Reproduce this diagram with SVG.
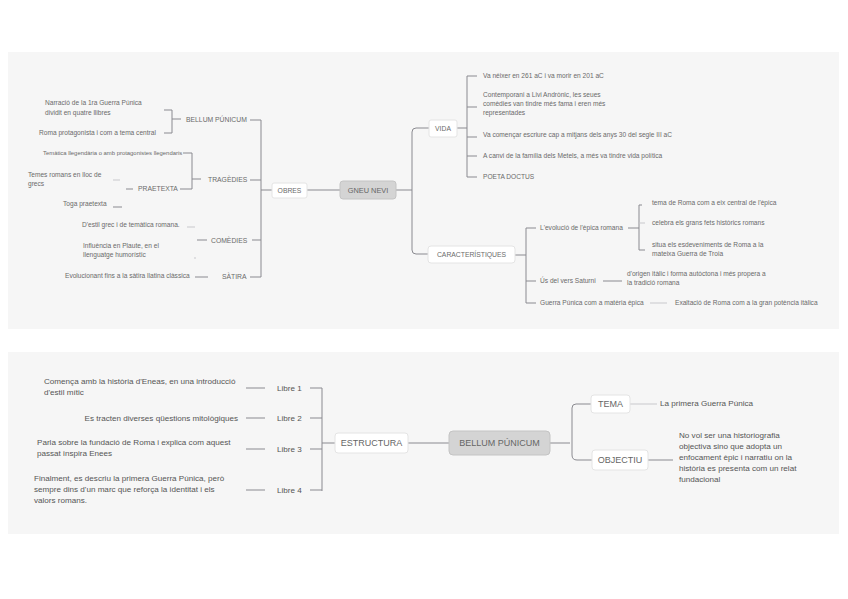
<svg xmlns="http://www.w3.org/2000/svg" width="848" height="599" viewBox="0 0 848 599">
<style>
.bg{fill:#f6f6f6}
.ln{fill:none;stroke:#8a8a90;stroke-width:1}
.fl{fill:none;stroke:#c8c8cc;stroke-width:1}
.t{font-family:"Liberation Sans",Arial,sans-serif;font-size:6.6px;fill:#6a6a6a}
.t7{font-family:"Liberation Sans",Arial,sans-serif;font-size:6.8px;fill:#6a6a6a}
.b{font-family:"Liberation Sans",Arial,sans-serif;font-size:8.1px;fill:#555}
.box{fill:#fff;stroke:#e4e4e4;stroke-width:1}
.root{fill:#d4d4d4;stroke:#c4c4c4;stroke-width:1}
.rt{font-family:"Liberation Sans",Arial,sans-serif;font-size:7.4px;fill:#666;text-anchor:middle}
.rb{font-family:"Liberation Sans",Arial,sans-serif;font-size:9px;fill:#666;text-anchor:middle}
</style>
<rect class="bg" x="8" y="52" width="831" height="277"/>
<rect class="bg" x="8" y="352" width="831" height="182"/>

<g id="connectors">
<path class="ln" d="M307 190 H340"/>
<path class="ln" d="M261 190 H272"/>
<path class="ln" d="M261 120 V277"/>
<path class="ln" d="M250 120 H261 M250 180 H261 M252 240 H261 M250 277 H261"/>
<path class="ln" d="M164 110 H172 V133 H164 M172 119 H181"/>
<path class="ln" d="M183 153 H192 V189 H180 M192 179 H201"/>
<path class="fl" d="M113 180 H120"/>
<path class="ln" d="M126 189 H133"/>
<path class="ln" d="M113 207 H122"/>
<path class="fl" d="M187 227 H195 M195 257 V259"/>
<path class="ln" d="M197 240 H207"/>
<path class="ln" d="M195 277 H208"/>
<path class="ln" d="M396 190 H412 M430 128 H416 Q412 128 412 132 V250 Q412 254 416 254 H428"/>
<path class="ln" d="M457 128 H467 M467 76 V177 M467 76 H477 M467 107 H477 M467 137 H477 M467 156 H477 M467 177 H477"/>
<path class="ln" d="M515 255 H526 M526 228 V303 M526 228 H536 M526 281 H536 M526 303 H536"/>
<path class="ln" d="M628 228 H639 M639 205 V250 M639 205 H642 M639 250 H645"/>
<path class="fl" d="M639 223 H645"/>
<path class="ln" d="M603 281 H622"/>
<path class="fl" d="M650 303 H667"/>
<path class="ln" d="M246 388 H265 M246 418 H265 M246 449 H265 M246 490 H265"/>
<path class="ln" d="M310 388 H322 M310 418 H322 M310 449 H322 M310 490 H322 M322 388 V491"/>
<path class="ln" d="M322 443 H335 M408 443 H449 M550 443 H570"/>
<path class="ln" d="M591 404 H576 Q572 404 572 408 V455 Q572 460 577 460 H592"/>
<path class="fl" d="M630 404 H657"/>
<path class="ln" d="M648 460 H673"/>
</g>

<g id="gneu-nevi"><rect class="root" x="340" y="181" width="56" height="18" rx="3"/><text class="rt" x="368" y="192.6">GNEU NEVI</text></g>
<g id="obres"><rect class="box" x="272" y="183" width="35" height="15" rx="2"/><text class="t7" x="289.5" y="192.6" text-anchor="middle">OBRES</text></g>
<g id="vida"><rect class="box" x="429" y="120" width="28" height="17" rx="2"/><text class="t7" x="443" y="130.6" text-anchor="middle">VIDA</text></g>
<g id="caracteristiques"><rect class="box" x="428" y="246" width="87" height="17" rx="3"/><text class="t7" x="471.5" y="257" text-anchor="middle">CARACTERÍSTIQUES</text></g>

<g id="bellum-top"><text class="t7" x="186" y="121.5">BELLUM PÚNICUM</text></g>
<g id="narracio"><text class="t" x="45" y="105">Narració de la 1ra Guerra Púnica</text><text class="t" x="45" y="115">dividit en quatre llibres</text></g>
<g id="roma-prot"><text class="t" x="39" y="135">Roma protagonista i com a tema central</text></g>
<g id="tragedies"><text class="t7" x="208" y="181.5">TRAGÈDIES</text></g>
<g id="tematica"><text class="t" x="43" y="155" style="font-size:5.9px">Temàtica llegendària o amb protagonistes llegendaris</text></g>
<g id="temes-romans"><text class="t" x="28" y="177">Temes romans en lloc de</text><text class="t" x="28" y="186">grecs</text></g>
<g id="praetexta"><text class="t7" x="138" y="191">PRAETEXTA</text></g>
<g id="toga"><text class="t" x="63" y="206">Toga praetexta</text></g>
<g id="estil-grec"><text class="t" x="82" y="227">D'estil grec i de temàtica romana.</text></g>
<g id="influencia"><text class="t" x="83" y="248">Influència en Plaute, en el</text><text class="t" x="83" y="257">llenguatge humorístic</text></g>
<g id="comedies"><text class="t7" x="211" y="242.5">COMÈDIES</text></g>
<g id="evolucionant"><text class="t" x="65" y="278">Evolucionant fins a la sàtira llatina clàssica</text></g>
<g id="satira"><text class="t7" x="222" y="279">SÀTIRA</text></g>

<g id="vida-1"><text class="t" x="483" y="78">Va néixer en 261 aC i va morir en 201 aC</text></g>
<g id="vida-2"><text class="t" x="483" y="97">Contemporani a Livi Andrònic, les seues</text><text class="t" x="483" y="106">comèdies van tindre més fama i eren més</text><text class="t" x="483" y="115">representades</text></g>
<g id="vida-3"><text class="t" x="483" y="137">Va començar escriure cap a mitjans dels anys 30 del segle III aC</text></g>
<g id="vida-4"><text class="t" x="483" y="158">A canvi de la família dels Metels, a més va tindre vida política</text></g>
<g id="vida-5"><text class="t" x="483" y="179">POETA DOCTUS</text></g>

<g id="evolucio"><text class="t" x="540" y="230">L'evolució de l'èpica romana</text></g>
<g id="tema-roma"><text class="t" x="652" y="205">tema de Roma com a eix central de l'èpica</text></g>
<g id="celebra"><text class="t" x="652" y="225">celebra els grans fets històrics romans</text></g>
<g id="situa"><text class="t" x="652" y="247">situa els esdeveniments de Roma a la</text><text class="t" x="652" y="256">mateixa Guerra de Troia</text></g>
<g id="us-vers"><text class="t" x="540" y="283">Ús del vers Saturni</text></g>
<g id="origen"><text class="t" x="627" y="276">d'origen itàlic i forma autòctona i més propera a</text><text class="t" x="627" y="285">la tradició romana</text></g>
<g id="guerra-punica"><text class="t" x="540" y="305">Guerra Púnica com a matèria èpica</text></g>
<g id="exaltacio"><text class="t" x="675" y="305">Exaltació de Roma com a la gran potència itàlica</text></g>

<g id="bellum-root"><rect class="root" x="449" y="431" width="101" height="24" rx="4"/><text class="rb" x="499.5" y="446">BELLUM PÚNICUM</text></g>
<g id="estructura"><rect class="box" x="335" y="433" width="73" height="20" rx="3"/><text class="rb" x="371.5" y="446">ESTRUCTURA</text></g>
<g id="tema"><rect class="box" x="591" y="395" width="39" height="18" rx="3"/><text class="rb" x="610.5" y="407">TEMA</text></g>
<g id="objectiu"><rect class="box" x="592" y="450" width="56" height="20" rx="3"/><text class="rb" x="620" y="463">OBJECTIU</text></g>
<g id="libre-1"><text class="b" x="277" y="390.5">Libre 1</text></g>
<g id="libre-2"><text class="b" x="277" y="420.5">Libre 2</text></g>
<g id="libre-3"><text class="b" x="277" y="451.5">Libre 3</text></g>
<g id="libre-4"><text class="b" x="277" y="492.5">Libre 4</text></g>
<g id="comenca"><text class="b" x="44" y="384">Comença amb la història d'Eneas, en una introducció</text><text class="b" x="44" y="395">d'estil mític</text></g>
<g id="tracten"><text class="b" x="238" y="420.5" text-anchor="end">Es tracten diverses qüestions mitològiques</text></g>
<g id="parla"><text class="b" x="37" y="444.5">Parla sobre la fundació de Roma i explica com aquest</text><text class="b" x="37" y="455.5">passat inspira Enees</text></g>
<g id="finalment"><text class="b" x="34" y="481">Finalment, es descriu la primera Guerra Púnica, però</text><text class="b" x="34" y="492">sempre dins d'un marc que reforça la identitat i els</text><text class="b" x="34" y="503">valors romans.</text></g>
<g id="primera"><text class="b" x="660" y="405.5">La primera Guerra Púnica</text></g>
<g id="no-vol"><text class="b" x="679" y="437.5">No vol ser una historiografia</text><text class="b" x="679" y="448.5">objectiva sino que adopta un</text><text class="b" x="679" y="459.5">enfocament èpic i narratiu on la</text><text class="b" x="679" y="470.5">història es presenta com un relat</text><text class="b" x="679" y="481.5">fundacional</text></g>
</svg>
